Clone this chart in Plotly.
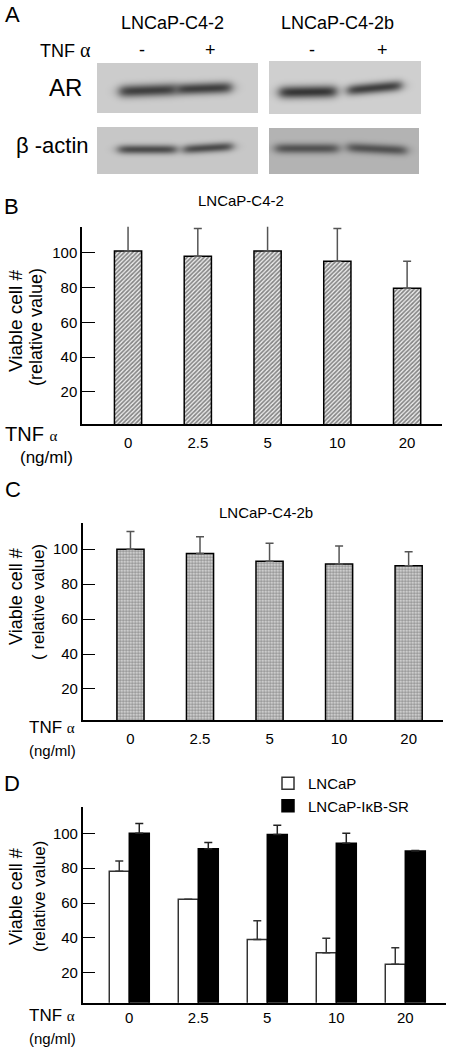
import numpy as np
import plotly.graph_objects as go

W, H = 452, 1051

# ---------------- data ----------------
doses = ["0", "2.5", "5", "10", "20"]
yticks = [20, 40, 60, 80, 100]

c42_mean = [101, 98, 101, 95, 79.5]
c42_err = [19, 15.8, 19, 18.8, 15.5]

c42b_mean = [100, 97.5, 93.1, 91.6, 90.6]
c42b_err = [10.1, 9.7, 10.3, 10.3, 8.0]

lncap_mean = [78.2, 62.1, 39.1, 31.5, 24.8]
lncap_err = [5.9, 0.0, 10.7, 8.2, 9.5]
sr_mean = [100, 91.2, 99.4, 94.3, 89.8]
sr_err = [5.7, 3.6, 5.2, 5.7, 0.4]

blot_cells = ["LNCaP-C4-2", "LNCaP-C4-2b"]
blot_lanes = ["-", "+", "-", "+"]
ar_intensity = [0.88, 0.88, 0.94, 0.88]
actin_intensity = [0.80, 0.80, 0.72, 0.72]

FONT = "Liberation Sans, Arial, Helvetica, sans-serif"


def px(x):
    return x / W


def py(y):
    return 1 - y / H


# ---------------- blot image (panel A) ----------------
X0, Y0 = 90, 55
bw, bh = 336, 126
img = np.full((bh, bw), 255.0)
xs = np.arange(bw)[None, :] + X0
ys = np.arange(bh)[:, None] + Y0
boxes = [(97, 257, 63, 112, 205), (269, 420, 61, 113, 208),
         (97, 257, 127, 173, 200), (269, 418, 128, 173, 180)]
for x0, x1, y0, y1, g in boxes:
    m = (xs >= x0) & (xs <= x1) & (ys >= y0) & (ys <= y1)
    img = np.where(m, g, img)
# band geometry: (xa, xb, yc_left, yc_right, half-thickness)
band_geo = [(119, 176, 91, 89, 7.5), (176, 231, 89, 87, 7.0),
            (279, 336, 92, 91, 7.5), (347, 401, 90, 85, 6.5),
            (118, 176, 149, 149, 5.5), (183, 232, 149, 146, 5.5),
            (275, 338, 148, 148, 6.0), (347, 406, 147, 150, 6.0)]
band_int = ar_intensity + actin_intensity
for (xa, xb, yl, yr, s), amp in zip(band_geo, band_int):
    t = np.clip((xs - xa) / (xb - xa), 0, 1)
    yc = yl + (yr - yl) * t
    wx = 1 / (1 + np.exp(-(xs - xa) / 3.0)) * 1 / (1 + np.exp((xs - xb) / 3.0))
    d = amp * np.exp(-((ys - yc) / s) ** 2 * 1.4) * wx
    img = img - (img - 45) * d * (img < 250)
img = np.clip(img, 0, 255).astype(np.uint8)
rgb = np.stack([img, img, img], axis=-1)

fig = go.Figure()
fig.add_trace(go.Image(z=rgb, x0=X0, dx=1, y0=Y0, dy=1, xaxis="x4", yaxis="y4",
                       hoverinfo="skip"))

# ---------------- bars ----------------
bar_line = dict(color="black", width=1.5)
fig.add_trace(go.Bar(
    x=doses, y=c42_mean, width=0.39, xaxis="x", yaxis="y", showlegend=False,
    marker=dict(color="white", line=bar_line,
                pattern=dict(shape="/", fgcolor="#1a1a1a", bgcolor="#eeeeee", size=3, solidity=0.55)),
    error_y=dict(type="data", symmetric=False, array=c42_err, arrayminus=[0] * 5,
                 color="#555", thickness=1.5, width=4)))
fig.add_trace(go.Bar(
    x=doses, y=c42b_mean, width=0.39, xaxis="x2", yaxis="y2", showlegend=False,
    marker=dict(color="white", line=bar_line,
                pattern=dict(shape=".", fgcolor="#333", bgcolor="#e4e4e4", size=3, solidity=0.55)),
    error_y=dict(type="data", symmetric=False, array=c42b_err, arrayminus=[0] * 5,
                 color="#555", thickness=1.5, width=4)))
fig.add_trace(go.Bar(
    x=doses, y=lncap_mean, width=0.29, offset=-0.29, xaxis="x3", yaxis="y3",
    name="LNCaP", marker=dict(color="white", line=dict(color="#333", width=1.5)),
    error_y=dict(type="data", symmetric=False, array=lncap_err, arrayminus=[0] * 5,
                 color="#333", thickness=1.5, width=4)))
fig.add_trace(go.Bar(
    x=doses, y=sr_mean, width=0.29, offset=0, xaxis="x3", yaxis="y3",
    name="LNCaP-I\u03baB-SR", marker=dict(color="black", line=dict(color="black", width=1.5)),
    error_y=dict(type="data", symmetric=False, array=sr_err, arrayminus=[0] * 5,
                 color="#222", thickness=1.5, width=4)))


def xax(left, right, rng, standoff):
    return dict(domain=[px(left), px(right)], range=rng, type="category",
                showline=True, linecolor="black", linewidth=2, showgrid=False,
                zeroline=False, ticks="", ticklabelstandoff=standoff,
                tickfont=dict(family=FONT, size=15, color="black"), fixedrange=True)


def yax(top, bottom, rng, anchor):
    return dict(domain=[py(bottom), py(top)], range=rng, anchor=anchor,
                showline=True, linecolor="black", linewidth=1.5, showgrid=False,
                zeroline=False, ticks="inside", ticklen=13, tickwidth=1, tickcolor="black",
                tickvals=yticks, ticklabelstandoff=0,
                tickfont=dict(family=FONT, size=15, color="black"), fixedrange=True)


fig.update_layout(
    width=W, height=H, autosize=False,
    margin=dict(l=0, r=0, t=0, b=0),
    paper_bgcolor="white", plot_bgcolor="rgba(0,0,0,0)",
    barmode="overlay",
    font=dict(family=FONT, color="black"),
    xaxis=dict(**xax(82, 442, [-0.66, 4.5], 4), anchor="y"),
    yaxis=yax(226.7, 424, [1.6, 114.9], "x"),
    xaxis2=dict(**xax(82.7, 442.7, [-0.687, 4.49], 4), anchor="y2"),
    yaxis2=yax(522.7, 720, [2.2, 115.2], "x2"),
    xaxis3=dict(**xax(82.7, 446, [-0.675, 4.59], 0), anchor="y3"),
    yaxis3=yax(806.7, 1002.7, [2.75, 115.3], "x3"),
    xaxis4=dict(domain=[0, 1], range=[0, W], visible=False, anchor="y4", fixedrange=True),
    yaxis4=dict(domain=[py(180), 1], range=[180, 0], visible=False, anchor="x4", fixedrange=True),
    legend=dict(x=px(268), y=py(767), xanchor="left", yanchor="top",
                font=dict(family=FONT, size=15, color="black"), bgcolor="rgba(0,0,0,0)",
                tracegroupgap=0, itemclick=False, itemdoubleclick=False),
    showlegend=True,
)

ann = []


def text(x, y, s, size, **kw):
    ann.append(dict(x=px(x), y=py(y), xref="paper", yref="paper", text=s, showarrow=False,
                    font=dict(family=FONT, size=size, color="black"),
                    xanchor=kw.get("xanchor", "center"), yanchor="middle",
                    textangle=kw.get("angle", 0)))


# panel letters
text(3, 15, "A", 22, xanchor="left")
text(2, 206, "B", 22, xanchor="left")
text(3, 489, "C", 22, xanchor="left")
text(2, 783, "D", 22, xanchor="left")

# panel A labels
text(172, 23, blot_cells[0], 18)
text(337, 23, blot_cells[1], 18)
alpha_a = "<span style='font-family:Liberation Serif;font-size:20px'>\u03b1</span>"
text(38, 50, "TNF " + alpha_a, 18, xanchor="left")
for xpos, lab in zip([142, 210, 312, 382], blot_lanes):
    text(xpos, 50, lab, 18)
text(65, 88, "AR", 24)
text(52, 145, "\u03b2 -actin", 22)

# titles
text(241, 200, "LNCaP-C4-2", 15)
text(266, 512, "LNCaP-C4-2b", 15)

# y-axis titles
text(15, 321, "Viable cell #", 19, angle=-90)
text(36, 327, "(relative value)", 18, angle=-90)
text(16, 597, "Viable cell #", 18, angle=-90)
text(38, 602, "( relative value)", 17, angle=-90)
text(16, 897, "Viable cell #", 18, angle=-90)
text(39, 896, "(relative value)", 17, angle=-90)

alpha = "<span style='font-family:Liberation Serif;font-size:15px'>\u03b1</span>"
# TNF labels
text(3, 434, "TNF " + alpha, 20, xanchor="left")
text(18, 457, "(ng/ml)", 17, xanchor="left")
text(27, 727, "TNF " + alpha, 17, xanchor="left")
text(27, 750, "(ng/ml)", 15, xanchor="left")
text(27, 1015, "TNF " + alpha, 17, xanchor="left")
text(27, 1038, "(ng/ml)", 15, xanchor="left")

fig.update_layout(annotations=ann)

fig.write_html("out.html", config={"displayModeBar": False},
               post_script="document.body.style.margin='0';document.body.style.overflow='hidden';")
